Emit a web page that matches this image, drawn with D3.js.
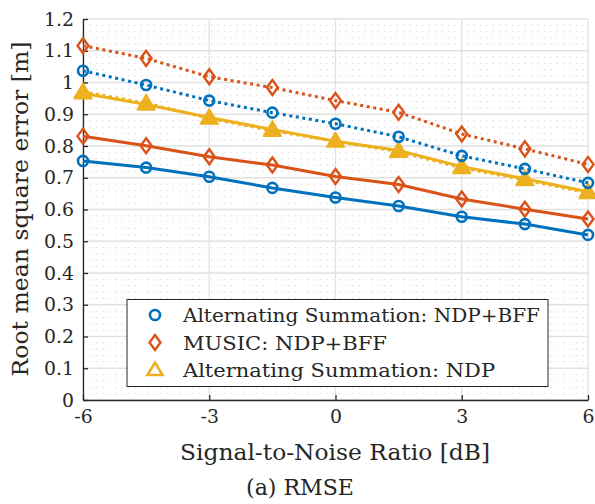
<!DOCTYPE html>
<html>
<head>
<meta charset="utf-8">
<script src="https://cdn.jsdelivr.net/npm/d3@7"></script>
<style>
  body { margin: 0; background: #fff; }
  svg { display: block; }
  text { font-family: "DejaVu Serif", serif; fill: #262626; }
</style>
</head>
<body>
<svg id="chart" width="595" height="504"></svg>
<script>
var snr = [-6, -4.5, -3, -1.5, 0, 1.5, 3, 4.5, 6];
var xTicks = [-6, -3, 0, 3, 6];
var yTicks = [0, 0.1, 0.2, 0.3, 0.4, 0.5, 0.6, 0.7, 0.8, 0.9, 1, 1.1, 1.2];

var altSumBffSolid = [0.753, 0.732, 0.703, 0.668, 0.638, 0.611, 0.577, 0.554, 0.520];
var musicBffSolid = [0.831, 0.801, 0.766, 0.740, 0.704, 0.679, 0.633, 0.601, 0.570];
var altSumNdpSolid = [0.966, 0.931, 0.890, 0.852, 0.815, 0.786, 0.735, 0.697, 0.656];
var altSumNdpDotted = [0.971, 0.935, 0.887, 0.848, 0.815, 0.782, 0.731, 0.693, 0.652];
var altSumBffDotted = [1.037, 0.992, 0.943, 0.905, 0.870, 0.829, 0.769, 0.728, 0.684];
var musicBffDotted = [1.116, 1.076, 1.018, 0.984, 0.943, 0.906, 0.838, 0.791, 0.742];

var legendNames = ["Alternating Summation: NDP+BFF", "MUSIC: NDP+BFF", "Alternating Summation: NDP"];

var blue = "#0072BD", orange = "#D95319", yellow = "#EDB120";

var series = [
  { values: altSumNdpDotted, color: yellow, marker: "triangle", dotted: true },
  { values: altSumNdpSolid, color: yellow, marker: "triangle", dotted: false },
  { values: musicBffDotted, color: orange, marker: "diamond", dotted: true },
  { values: musicBffSolid, color: orange, marker: "diamond", dotted: false },
  { values: altSumBffDotted, color: blue, marker: "circle", dotted: true },
  { values: altSumBffSolid, color: blue, marker: "circle", dotted: false }
];

var plotLeft = 83, plotRight = 588, plotTop = 19, plotBottom = 400;
var svg = d3.select("#chart");

var x = d3.scaleLinear().domain([-6, 6]).range([plotLeft, plotRight]);
var y = d3.scaleLinear().domain([0, 1.2]).range([plotBottom, plotTop]);

// size a font so that a sample string gets the wanted width
function fitSize(sample, width, base) {
  var t = svg.append("text").style("font-size", base + "px").text(sample);
  var w = t.node().getComputedTextLength();
  t.remove();
  return w > 0 ? base * width / w : base;
}
var tickSize = fitSize("0.9", 30, 20);
var captionSize = fitSize("(a) RMSE", 108, 20);

// minor grid (dotted)
var minor = d3.range(0, 1.2001, 0.02).filter(function (v) { return Math.abs(Math.round(v * 10) - v * 10) > 0.01; });
svg.append("g").selectAll("line").data(minor).enter().append("line")
  .attr("x1", plotLeft).attr("x2", plotRight)
  .attr("y1", function (d) { return y(d); }).attr("y2", function (d) { return y(d); })
  .attr("stroke", "#d0d0d0").attr("stroke-width", 1)
  .attr("stroke-dasharray", "1.2,5.2");

// major grid
svg.append("g").selectAll("line").data(yTicks).enter().append("line")
  .attr("x1", plotLeft).attr("x2", plotRight)
  .attr("y1", function (d) { return y(d); }).attr("y2", function (d) { return y(d); })
  .attr("stroke", "#e1e1e1").attr("stroke-width", 1.3);
svg.append("g").selectAll("line").data(xTicks).enter().append("line")
  .attr("y1", plotTop).attr("y2", plotBottom)
  .attr("x1", function (d) { return x(d); }).attr("x2", function (d) { return x(d); })
  .attr("stroke", "#e1e1e1").attr("stroke-width", 1.3);

// axes
var yAxis = svg.append("g").attr("transform", "translate(" + plotLeft + ",0)")
  .call(d3.axisLeft(y).tickValues(yTicks).tickSizeInner(-5).tickSizeOuter(0)
    .tickPadding(9).tickFormat(function (d) { return d3.format("")(+d.toFixed(1)); }));
var xAxis = svg.append("g").attr("transform", "translate(0," + plotBottom + ")")
  .call(d3.axisBottom(x).tickValues(xTicks).tickSizeInner(-5).tickSizeOuter(0)
    .tickPadding(10).tickFormat(function (d) { return d < 0 ? "-" + Math.abs(d) : d; }));
[yAxis, xAxis].forEach(function (a) {
  a.attr("font-family", null).attr("font-size", tickSize);
  a.select(".domain").attr("stroke", "#262626").attr("stroke-width", 1.3);
  a.selectAll(".tick line").attr("stroke", "#262626").attr("stroke-width", 1.3);
  a.selectAll(".tick text").attr("fill", "#262626").style("font-size", tickSize + "px");
});

function drawMarker(g, type, cx, cy, color, fill) {
  if (type === "circle") {
    g.append("circle").attr("cx", cx).attr("cy", cy).attr("r", 5)
      .attr("fill", fill).attr("stroke", color).attr("stroke-width", 2.6);
  } else if (type === "diamond") {
    g.append("path").attr("d", "M" + cx + "," + (cy - 7.5) + "L" + (cx + 5.5) + "," + cy +
      "L" + cx + "," + (cy + 7.5) + "L" + (cx - 5.5) + "," + cy + "Z")
      .attr("fill", fill).attr("stroke", color).attr("stroke-width", 2.4);
  } else {
    g.append("path").attr("d", "M" + cx + "," + (cy - 7.5) + "L" + (cx + 7.5) + "," + (cy + 5) +
      "L" + (cx - 7.5) + "," + (cy + 5) + "Z")
      .attr("fill", fill).attr("stroke", color).attr("stroke-width", 2.6).attr("stroke-linejoin", "miter");
  }
}

var line = d3.line().x(function (d, i) { return x(snr[i]); }).y(function (d) { return y(d); });

series.forEach(function (s) {
  var g = svg.append("g");
  g.append("path").datum(s.values).attr("d", line)
    .attr("fill", "none").attr("stroke", s.color).attr("stroke-width", 3)
    .attr("stroke-dasharray", s.dotted ? "3,3.6" : null);
  s.values.forEach(function (v, i) {
    drawMarker(g, s.marker, x(snr[i]), y(v), s.color, s.marker === "triangle" ? s.color : "none");
  });
});

// legend
var lg = svg.append("g");
lg.append("rect").attr("x", 127).attr("y", 299.5).attr("width", 421).attr("height", 87)
  .attr("fill", "#fff").attr("stroke", "#262626").attr("stroke-width", 1);
var legendMarkers = [["circle", blue], ["diamond", orange], ["triangle", yellow]];
var legendWidths = [357, 204, 312];
legendNames.forEach(function (name, i) {
  var cy = 315 + i * 27.5;
  drawMarker(lg, legendMarkers[i][0], 155, cy, legendMarkers[i][1], "#fff");
  lg.append("text").attr("x", 183).attr("y", cy + 7).style("font-size", "19px")
    .attr("textLength", legendWidths[i]).attr("lengthAdjust", "spacingAndGlyphs").text(name);
});

// labels
svg.append("text").attr("transform", "translate(28," + ((plotTop + plotBottom) / 2 - 0.5) + ") rotate(-90)")
  .attr("text-anchor", "middle").style("font-size", "22px")
  .attr("textLength", 335).attr("lengthAdjust", "spacingAndGlyphs").text("Root mean square error [m]");
svg.append("text").attr("x", 335).attr("y", 460)
  .attr("text-anchor", "middle").style("font-size", "22px")
  .attr("textLength", 310).attr("lengthAdjust", "spacingAndGlyphs").text("Signal-to-Noise Ratio [dB]");
svg.append("text").attr("x", 300).attr("y", 495)
  .attr("text-anchor", "middle").style("font-size", captionSize + "px").attr("fill", "#000").text("(a) RMSE");
</script>
</body>
</html>
